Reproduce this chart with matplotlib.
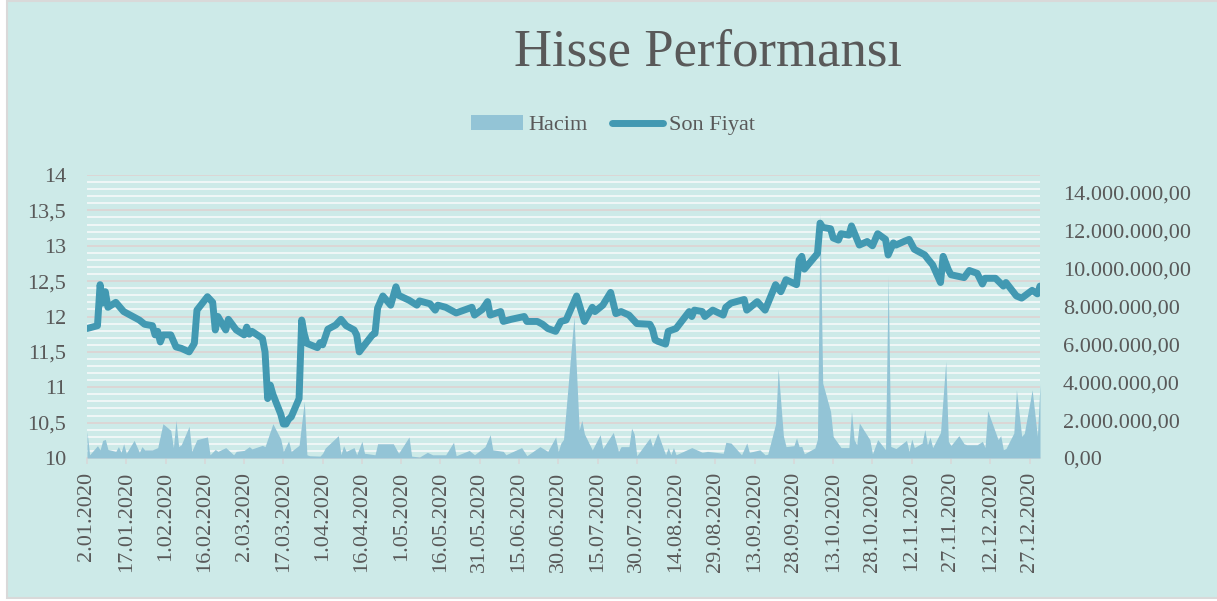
import matplotlib.pyplot as plt
import numpy as np
import pandas as pd
from matplotlib.patches import Rectangle, Patch
from matplotlib.lines import Line2D
from matplotlib.ticker import MultipleLocator, FuncFormatter

plt.rcParams['font.family'] = ['Liberation Serif', 'DejaVu Serif']

# Son Fiyat (price)
price_dates = [
    "2020-01-02", "2020-01-06", "2020-01-07", "2020-01-08", "2020-01-09", "2020-01-10",
    "2020-01-13", "2020-01-16", "2020-01-20", "2020-01-22", "2020-01-24", "2020-01-27",
    "2020-01-28", "2020-01-29", "2020-01-30", "2020-01-31", "2020-02-03", "2020-02-05",
    "2020-02-07", "2020-02-10", "2020-02-12", "2020-02-13", "2020-02-17", "2020-02-19",
    "2020-02-20", "2020-02-21", "2020-02-24", "2020-02-25", "2020-02-28", "2020-03-02",
    "2020-03-03", "2020-03-04", "2020-03-05", "2020-03-09", "2020-03-10", "2020-03-11",
    "2020-03-12", "2020-03-13", "2020-03-16", "2020-03-17", "2020-03-18", "2020-03-19",
    "2020-03-20", "2020-03-23", "2020-03-24", "2020-03-25", "2020-03-26", "2020-03-30",
    "2020-03-31", "2020-04-01", "2020-04-03", "2020-04-06", "2020-04-08", "2020-04-10",
    "2020-04-13", "2020-04-14", "2020-04-15", "2020-04-16", "2020-04-20", "2020-04-21",
    "2020-04-22", "2020-04-24", "2020-04-27", "2020-04-29", "2020-04-30", "2020-05-04",
    "2020-05-07", "2020-05-08", "2020-05-12", "2020-05-14", "2020-05-15", "2020-05-18",
    "2020-05-22", "2020-05-28", "2020-05-29", "2020-06-01", "2020-06-03", "2020-06-04",
    "2020-06-08", "2020-06-09", "2020-06-12", "2020-06-17", "2020-06-18", "2020-06-22",
    "2020-06-24", "2020-06-26", "2020-06-29", "2020-07-01", "2020-07-03", "2020-07-07",
    "2020-07-10", "2020-07-13", "2020-07-14", "2020-07-17", "2020-07-20", "2020-07-22",
    "2020-07-24", "2020-07-27", "2020-07-30", "2020-08-04", "2020-08-05", "2020-08-06",
    "2020-08-07", "2020-08-10", "2020-08-11", "2020-08-14", "2020-08-19", "2020-08-20",
    "2020-08-21", "2020-08-24", "2020-08-25", "2020-08-28", "2020-09-01", "2020-09-02",
    "2020-09-04", "2020-09-09", "2020-09-10", "2020-09-14", "2020-09-17", "2020-09-21",
    "2020-09-23", "2020-09-25", "2020-09-29", "2020-09-30", "2020-10-01", "2020-10-02",
    "2020-10-07", "2020-10-08", "2020-10-09", "2020-10-12", "2020-10-13", "2020-10-15",
    "2020-10-16", "2020-10-19", "2020-10-20", "2020-10-23", "2020-10-26", "2020-10-28",
    "2020-10-30", "2020-11-02", "2020-11-03", "2020-11-05", "2020-11-06", "2020-11-09",
    "2020-11-11", "2020-11-13", "2020-11-17", "2020-11-18", "2020-11-20", "2020-11-23",
    "2020-11-24", "2020-11-26", "2020-11-27", "2020-12-02", "2020-12-04", "2020-12-07",
    "2020-12-09", "2020-12-10", "2020-12-14", "2020-12-17", "2020-12-18", "2020-12-22",
    "2020-12-24", "2020-12-28", "2020-12-30", "2020-12-31",
]
price_values = [
    11.83, 11.87, 12.45, 12.19, 12.35, 12.13,
    12.20, 12.07, 11.99, 11.95, 11.89, 11.87,
    11.74, 11.79, 11.64, 11.74, 11.74, 11.57,
    11.55, 11.50, 11.62, 12.09, 12.28, 12.20,
    11.81, 12.00, 11.81, 11.96, 11.81, 11.74,
    11.85, 11.75, 11.79, 11.69, 11.50, 10.84,
    11.03, 10.90, 10.62, 10.48, 10.48, 10.55,
    10.58, 10.84, 11.95, 11.75, 11.62, 11.56,
    11.63, 11.60, 11.82, 11.88, 11.96, 11.87,
    11.81, 11.74, 11.50, 11.55, 11.74, 11.76,
    12.12, 12.29, 12.16, 12.42, 12.30, 12.23,
    12.16, 12.22, 12.18, 12.09, 12.16, 12.13,
    12.05, 12.13, 12.02, 12.10, 12.21, 12.02,
    12.07, 11.93, 11.96, 12.00, 11.93, 11.93,
    11.89, 11.83, 11.79, 11.93, 11.95, 12.29,
    11.93, 12.13, 12.07, 12.16, 12.34, 12.04,
    12.07, 12.02, 11.90, 11.89, 11.82, 11.67,
    11.65, 11.61, 11.79, 11.83, 12.07, 12.00,
    12.09, 12.07, 12.00, 12.09, 12.02, 12.13,
    12.19, 12.24, 12.09, 12.21, 12.09, 12.45,
    12.35, 12.52, 12.45, 12.80, 12.85, 12.67,
    12.89, 13.32, 13.26, 13.24, 13.11, 13.08,
    13.17, 13.15, 13.28, 13.01, 13.06, 13.00,
    13.17, 13.09, 12.87, 13.04, 13.01, 13.06,
    13.09, 12.95, 12.87, 12.82, 12.73, 12.48,
    12.85, 12.66, 12.59, 12.55, 12.65, 12.61,
    12.46, 12.54, 12.54, 12.43, 12.48, 12.29,
    12.26, 12.37, 12.32, 12.43,
]

# Hacim (volume, millions)
volume_dates = [
    "2020-01-02", "2020-01-03", "2020-01-06", "2020-01-07", "2020-01-08", "2020-01-09",
    "2020-01-10", "2020-01-13", "2020-01-14", "2020-01-15", "2020-01-16", "2020-01-17",
    "2020-01-20", "2020-01-22", "2020-01-23", "2020-01-24", "2020-01-27", "2020-01-29",
    "2020-01-31", "2020-02-03", "2020-02-04", "2020-02-05", "2020-02-06", "2020-02-07",
    "2020-02-10", "2020-02-11", "2020-02-13", "2020-02-17", "2020-02-18", "2020-02-20",
    "2020-02-21", "2020-02-24", "2020-02-27", "2020-02-28", "2020-03-02", "2020-03-04",
    "2020-03-05", "2020-03-09", "2020-03-10", "2020-03-13", "2020-03-16", "2020-03-17",
    "2020-03-19", "2020-03-20", "2020-03-23", "2020-03-25", "2020-03-26", "2020-03-27",
    "2020-03-31", "2020-04-01", "2020-04-02", "2020-04-07", "2020-04-08", "2020-04-09",
    "2020-04-10", "2020-04-13", "2020-04-14", "2020-04-16", "2020-04-17", "2020-04-21",
    "2020-04-22", "2020-04-28", "2020-04-30", "2020-05-04", "2020-05-05", "2020-05-08",
    "2020-05-11", "2020-05-13", "2020-05-18", "2020-05-21", "2020-05-22", "2020-05-27",
    "2020-05-29", "2020-06-02", "2020-06-04", "2020-06-05", "2020-06-09", "2020-06-10",
    "2020-06-12", "2020-06-16", "2020-06-18", "2020-06-23", "2020-06-26", "2020-06-29",
    "2020-06-30", "2020-07-01", "2020-07-02", "2020-07-06", "2020-07-08", "2020-07-09",
    "2020-07-10", "2020-07-13", "2020-07-16", "2020-07-17", "2020-07-21", "2020-07-23",
    "2020-07-24", "2020-07-27", "2020-07-28", "2020-07-29", "2020-07-30", "2020-08-04",
    "2020-08-05", "2020-08-07", "2020-08-10", "2020-08-11", "2020-08-12", "2020-08-13",
    "2020-08-14", "2020-08-20", "2020-08-24", "2020-08-26", "2020-09-01", "2020-09-02",
    "2020-09-04", "2020-09-08", "2020-09-10", "2020-09-11", "2020-09-15", "2020-09-17",
    "2020-09-18", "2020-09-21", "2020-09-22", "2020-09-24", "2020-09-25", "2020-09-28",
    "2020-09-29", "2020-09-30", "2020-10-01", "2020-10-02", "2020-10-06", "2020-10-07",
    "2020-10-08", "2020-10-09", "2020-10-12", "2020-10-13", "2020-10-16", "2020-10-19",
    "2020-10-20", "2020-10-21", "2020-10-22", "2020-10-23", "2020-10-27", "2020-10-28",
    "2020-10-30", "2020-11-02", "2020-11-03", "2020-11-04", "2020-11-06", "2020-11-10",
    "2020-11-11", "2020-11-12", "2020-11-13", "2020-11-16", "2020-11-17", "2020-11-18",
    "2020-11-19", "2020-11-20", "2020-11-23", "2020-11-25", "2020-11-26", "2020-11-27",
    "2020-11-30", "2020-12-02", "2020-12-03", "2020-12-07", "2020-12-09", "2020-12-10",
    "2020-12-11", "2020-12-15", "2020-12-16", "2020-12-17", "2020-12-18", "2020-12-21",
    "2020-12-22", "2020-12-24", "2020-12-25", "2020-12-28", "2020-12-30", "2020-12-31",
]
volume_millions = [
    1.41, 0.17, 0.65, 0.43, 0.93, 0.98,
    0.45, 0.35, 0.60, 0.30, 0.75, 0.25,
    0.93, 0.30, 0.60, 0.43, 0.43, 0.55,
    1.81, 1.46, 0.55, 1.99, 0.60, 0.70,
    1.67, 0.35, 0.97, 1.11, 0.17, 0.45,
    0.35, 0.55, 0.17, 0.35, 0.40, 0.60,
    0.48, 0.67, 0.60, 1.81, 1.00, 0.35,
    0.90, 0.35, 0.67, 2.99, 0.17, 0.12,
    0.10, 0.25, 0.53, 1.18, 0.17, 0.65,
    0.35, 0.55, 0.17, 0.88, 0.25, 0.17,
    0.75, 0.75, 0.25, 1.11, 0.10, 0.05,
    0.30, 0.17, 0.17, 0.83, 0.12, 0.40,
    0.17, 0.60, 1.23, 0.43, 0.35, 0.17,
    0.30, 0.55, 0.12, 0.60, 0.35, 1.11,
    0.35, 0.79, 0.98, 7.45, 1.50, 1.99,
    1.27, 0.43, 1.23, 0.50, 1.35, 0.35,
    0.60, 0.60, 1.58, 1.27, 0.12, 1.06,
    0.60, 1.32, 0.17, 0.55, 0.17, 0.55,
    0.17, 0.55, 0.30, 0.35, 0.25, 0.83,
    0.79, 0.17, 0.79, 0.30, 0.43, 0.17,
    0.20, 1.80, 4.70, 1.16, 0.60, 0.65,
    1.06, 0.60, 0.61, 0.22, 0.53, 1.00,
    12.95, 3.96, 2.46, 1.14, 0.55, 0.55,
    2.46, 0.97, 0.70, 1.85, 0.97, 0.22,
    0.97, 0.44, 9.59, 0.61, 0.50, 0.93,
    0.35, 1.00, 0.55, 0.79, 1.50, 0.70,
    1.10, 0.55, 1.35, 5.10, 0.88, 0.66,
    1.18, 0.75, 0.70, 0.70, 0.88, 0.55,
    2.50, 0.97, 1.18, 0.44, 0.50, 1.32,
    3.60, 1.15, 1.30, 3.60, 1.15, 3.90,
]

BG = '#CDEAE8'
TXT = '#595959'
LINE_C = '#4299B2'
AREA_C = '#93C4D6'

px = pd.to_datetime(price_dates)
vx = pd.to_datetime(volume_dates)
vol = np.array(volume_millions) * 1e6

fig = plt.figure(figsize=(12.17, 6.01), dpi=100)
fig.patch.set_facecolor('white')
fig.patches.append(Rectangle((7 / 1217, 3 / 601), 1.0, 597 / 601, transform=fig.transFigure,
                             facecolor=BG, edgecolor='#D9D9D9', lw=1.5, zorder=-1))

rect = [87 / 1217, 1 - 458 / 601, (1040 - 87) / 1217, (458 - 175) / 601]
ax = fig.add_axes(rect)
ax.patch.set_visible(False)

# price axis (left) with the grid
ax.set_ylim(10, 14)
ax.yaxis.set_major_locator(MultipleLocator(0.5))
ax.yaxis.set_minor_locator(MultipleLocator(0.1))
ax.yaxis.set_major_formatter(FuncFormatter(lambda v, p: f"{v:g}".replace('.', ',')))
ax.grid(which='minor', axis='y', color='#F3F8F8', lw=1.3)
ax.grid(which='major', axis='y', color='#DDD4D4', lw=1.3)
ax.tick_params(axis='y', which='both', length=0, labelsize=16, labelcolor=TXT, pad=15)
for s in ['top', 'left', 'right']:
    ax.spines[s].set_visible(False)
ax.spines['bottom'].set_color('#D9D9D9')
ax.spines['bottom'].set_linewidth(1.2)

# date axis
ax.set_xlim(pd.Timestamp('2020-01-02'), pd.Timestamp('2020-12-31'))
ticks = pd.date_range('2020-01-02', '2020-12-31', freq='15D')
ax.set_xticks(ticks)
ax.set_xticklabels([f"{d.day}.{d.month:02d}.{d.year}" for d in ticks], rotation=90)
ax.tick_params(axis='x', length=4.5, width=1.2, color='#D9D9D9', labelsize=16,
               labelcolor=TXT, pad=5.5)

# volume area (right axis)
axv = ax.twinx()
axv.fill_between(vx, vol, color=AREA_C, lw=0)
axv.set_ylim(0, 14.95e6)
axv.set_yticks(np.arange(0, 14.1e6, 2e6))
axv.yaxis.set_major_formatter(FuncFormatter(
    lambda v, p: f"{v:,.2f}".replace(',', 'X').replace('.', ',').replace('X', '.')))
axv.tick_params(axis='y', length=0, labelsize=16, labelcolor=TXT, pad=16.5)
for s in axv.spines.values():
    s.set_visible(False)

# price line on top
axl = ax.twinx()
axl.plot(px, price_values, color=LINE_C, lw=5.0, solid_capstyle='round', solid_joinstyle='round')
axl.set_ylim(10, 14)
axl.set_axis_off()

fig.text(708 / 1217, 1 - 65 / 601, 'Hisse Performansı', ha='center', va='baseline',
         fontsize=38, color=TXT)

handles = [Patch(facecolor=AREA_C, edgecolor='none'),
           Line2D([], [], color=LINE_C, lw=5.0, solid_capstyle='round')]
fig.legend(handles, ['Hacim', 'Son Fiyat'], loc='center', bbox_to_anchor=(613 / 1217, 1 - 125 / 601),
           ncol=2, frameon=False, fontsize=16, handlelength=2.3, handletextpad=0.25,
           columnspacing=1.1, labelcolor=TXT)

fig.savefig('out.png', dpi=100)
